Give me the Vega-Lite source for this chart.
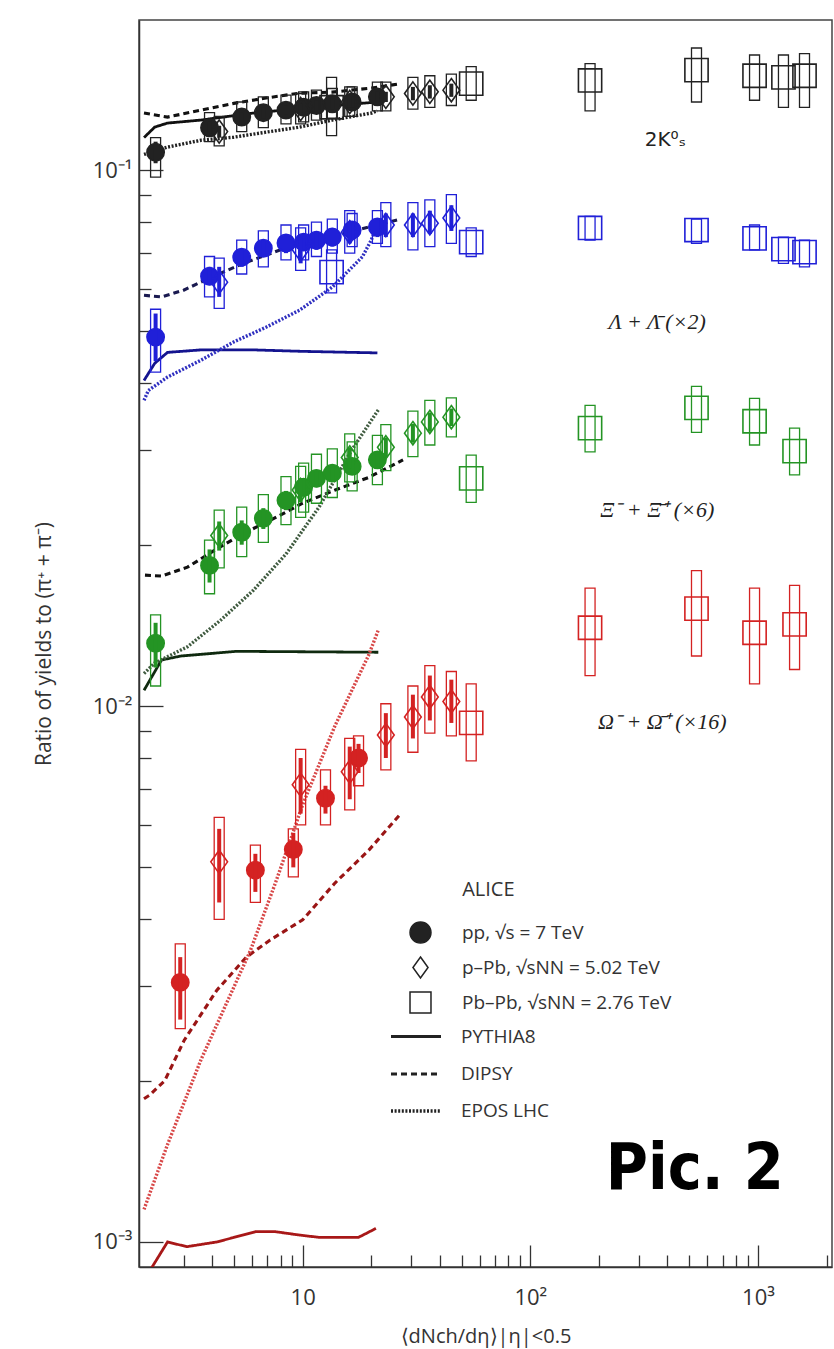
{
  "$schema": "https://vega.github.io/schema/vega-lite/v6.json",
  "width": 693,
  "height": 1247,
  "autosize": {"type": "none"},
  "padding": {"left": 139, "top": 20, "right": 2, "bottom": 82},
  "background": "white",
  "config": {
    "view": {"stroke": "#444", "strokeWidth": 1.5},
    "font": "Open Sans",
    "axis": {"grid": false}
  },
  "datasets": {
    "pts": [
      {"sp":"K","sys":"pp","x":2.26,"y":0.108,"lo":0.097,"hi":0.115,"slo":0.103,"shi":0.113},
      {"sp":"K","sys":"pp","x":3.9,"y":0.120,"lo":0.113,"hi":0.128,"slo":0.117,"shi":0.123},
      {"sp":"K","sys":"pp","x":5.4,"y":0.1256,"lo":0.118,"hi":0.134,"slo":0.123,"shi":0.128},
      {"sp":"K","sys":"pp","x":6.72,"y":0.128,"lo":0.120,"hi":0.137,"slo":0.125,"shi":0.131},
      {"sp":"K","sys":"pp","x":8.45,"y":0.1294,"lo":0.122,"hi":0.138,"slo":0.127,"shi":0.132},
      {"sp":"K","sys":"pp","x":10.1,"y":0.131,"lo":0.123,"hi":0.140,"slo":0.128,"shi":0.134},
      {"sp":"K","sys":"pp","x":11.5,"y":0.132,"lo":0.124,"hi":0.141,"slo":0.129,"shi":0.135},
      {"sp":"K","sys":"pp","x":13.5,"y":0.133,"lo":0.125,"hi":0.142,"slo":0.130,"shi":0.136},
      {"sp":"K","sys":"pp","x":16.5,"y":0.134,"lo":0.126,"hi":0.143,"slo":0.131,"shi":0.137},
      {"sp":"K","sys":"pp","x":21.3,"y":0.137,"lo":0.129,"hi":0.146,"slo":0.134,"shi":0.140},
      {"sp":"K","sys":"pPb","x":4.3,"y":0.118,"lo":0.111,"hi":0.126,"slo":0.115,"shi":0.121},
      {"sp":"K","sys":"pPb","x":9.8,"y":0.130,"lo":0.122,"hi":0.139,"slo":0.127,"shi":0.133},
      {"sp":"K","sys":"pPb","x":16.1,"y":0.134,"lo":0.126,"hi":0.143,"slo":0.131,"shi":0.137},
      {"sp":"K","sys":"pPb","x":23.2,"y":0.137,"lo":0.129,"hi":0.146,"slo":0.134,"shi":0.140},
      {"sp":"K","sys":"pPb","x":30.5,"y":0.139,"lo":0.130,"hi":0.149,"slo":0.135,"shi":0.143},
      {"sp":"K","sys":"pPb","x":36.2,"y":0.140,"lo":0.131,"hi":0.150,"slo":0.136,"shi":0.144},
      {"sp":"K","sys":"pPb","x":45,"y":0.141,"lo":0.132,"hi":0.151,"slo":0.137,"shi":0.145},
      {"sp":"K","sys":"PbPb","x":13.4,"y":0.131,"lo":0.116,"hi":0.149},
      {"sp":"K","sys":"PbPb","x":55,"y":0.145,"lo":0.135,"hi":0.156},
      {"sp":"K","sys":"PbPb","x":183,"y":0.147,"lo":0.129,"hi":0.158},
      {"sp":"K","sys":"PbPb","x":537,"y":0.1537,"lo":0.134,"hi":0.169},
      {"sp":"K","sys":"PbPb","x":966,"y":0.150,"lo":0.135,"hi":0.164},
      {"sp":"K","sys":"PbPb","x":1294,"y":0.149,"lo":0.131,"hi":0.164},
      {"sp":"K","sys":"PbPb","x":1601,"y":0.150,"lo":0.131,"hi":0.165},
      {"sp":"L","sys":"pp","x":2.26,"y":0.0488,"lo":0.042,"hi":0.055,"slo":0.044,"shi":0.054},
      {"sp":"L","sys":"pp","x":3.9,"y":0.0634,"lo":0.058,"hi":0.069,"slo":0.061,"shi":0.066},
      {"sp":"L","sys":"pp","x":5.4,"y":0.0688,"lo":0.064,"hi":0.074,"slo":0.066,"shi":0.071},
      {"sp":"L","sys":"pp","x":6.72,"y":0.0715,"lo":0.066,"hi":0.077,"slo":0.069,"shi":0.074},
      {"sp":"L","sys":"pp","x":8.45,"y":0.0731,"lo":0.068,"hi":0.079,"slo":0.070,"shi":0.076},
      {"sp":"L","sys":"pp","x":10.1,"y":0.0734,"lo":0.068,"hi":0.079,"slo":0.071,"shi":0.076},
      {"sp":"L","sys":"pp","x":11.5,"y":0.074,"lo":0.069,"hi":0.080,"slo":0.071,"shi":0.077},
      {"sp":"L","sys":"pp","x":13.5,"y":0.075,"lo":0.070,"hi":0.081,"slo":0.072,"shi":0.078},
      {"sp":"L","sys":"pp","x":16.5,"y":0.0773,"lo":0.072,"hi":0.083,"slo":0.074,"shi":0.080},
      {"sp":"L","sys":"pp","x":21.3,"y":0.0783,"lo":0.073,"hi":0.084,"slo":0.075,"shi":0.081},
      {"sp":"L","sys":"pPb","x":4.3,"y":0.0618,"lo":0.0552,"hi":0.0685,"slo":0.058,"shi":0.066},
      {"sp":"L","sys":"pPb","x":9.8,"y":0.071,"lo":0.065,"hi":0.078,"slo":0.067,"shi":0.075},
      {"sp":"L","sys":"pPb","x":16.1,"y":0.0766,"lo":0.070,"hi":0.084,"slo":0.073,"shi":0.080},
      {"sp":"L","sys":"pPb","x":23.2,"y":0.079,"lo":0.072,"hi":0.087,"slo":0.075,"shi":0.083},
      {"sp":"L","sys":"pPb","x":30.5,"y":0.079,"lo":0.071,"hi":0.087,"slo":0.075,"shi":0.083},
      {"sp":"L","sys":"pPb","x":36.2,"y":0.0796,"lo":0.072,"hi":0.088,"slo":0.076,"shi":0.084},
      {"sp":"L","sys":"pPb","x":45,"y":0.0814,"lo":0.073,"hi":0.090,"slo":0.077,"shi":0.086},
      {"sp":"L","sys":"PbPb","x":13.4,"y":0.0645,"lo":0.059,"hi":0.071},
      {"sp":"L","sys":"PbPb","x":55,"y":0.0734,"lo":0.069,"hi":0.078},
      {"sp":"L","sys":"PbPb","x":183,"y":0.078,"lo":0.074,"hi":0.082},
      {"sp":"L","sys":"PbPb","x":537,"y":0.0773,"lo":0.073,"hi":0.081},
      {"sp":"L","sys":"PbPb","x":966,"y":0.0746,"lo":0.071,"hi":0.079},
      {"sp":"L","sys":"PbPb","x":1294,"y":0.0712,"lo":0.067,"hi":0.075},
      {"sp":"L","sys":"PbPb","x":1601,"y":0.0703,"lo":0.066,"hi":0.074},
      {"sp":"X","sys":"pp","x":2.26,"y":0.0131,"lo":0.0109,"hi":0.0148,"slo":0.0118,"shi":0.0143},
      {"sp":"X","sys":"pp","x":3.9,"y":0.0183,"lo":0.0162,"hi":0.0204,"slo":0.0170,"shi":0.0196},
      {"sp":"X","sys":"pp","x":5.4,"y":0.0211,"lo":0.0190,"hi":0.0235,"slo":0.0200,"shi":0.0222},
      {"sp":"X","sys":"pp","x":6.72,"y":0.0224,"lo":0.0202,"hi":0.0248,"slo":0.0214,"shi":0.0234},
      {"sp":"X","sys":"pp","x":8.45,"y":0.0242,"lo":0.0218,"hi":0.0268,"slo":0.0232,"shi":0.0252},
      {"sp":"X","sys":"pp","x":10.1,"y":0.0256,"lo":0.0230,"hi":0.0284,"slo":0.0246,"shi":0.0266},
      {"sp":"X","sys":"pp","x":11.5,"y":0.0266,"lo":0.0239,"hi":0.0295,"slo":0.0256,"shi":0.0276},
      {"sp":"X","sys":"pp","x":13.5,"y":0.0272,"lo":0.0245,"hi":0.0302,"slo":0.0262,"shi":0.0282},
      {"sp":"X","sys":"pp","x":16.5,"y":0.0280,"lo":0.0252,"hi":0.0311,"slo":0.0270,"shi":0.0290},
      {"sp":"X","sys":"pp","x":21.3,"y":0.0288,"lo":0.0259,"hi":0.0320,"slo":0.0278,"shi":0.0298},
      {"sp":"X","sys":"pPb","x":4.3,"y":0.0208,"lo":0.0181,"hi":0.0232,"slo":0.0195,"shi":0.0221},
      {"sp":"X","sys":"pPb","x":9.8,"y":0.0253,"lo":0.0225,"hi":0.0280,"slo":0.0240,"shi":0.0266},
      {"sp":"X","sys":"pPb","x":16.1,"y":0.0291,"lo":0.0262,"hi":0.0322,"slo":0.0278,"shi":0.0304},
      {"sp":"X","sys":"pPb","x":23.2,"y":0.0304,"lo":0.0275,"hi":0.0335,"slo":0.0291,"shi":0.0317},
      {"sp":"X","sys":"pPb","x":30.5,"y":0.0323,"lo":0.0292,"hi":0.0355,"slo":0.0310,"shi":0.0336},
      {"sp":"X","sys":"pPb","x":36.2,"y":0.0339,"lo":0.0307,"hi":0.0372,"slo":0.0325,"shi":0.0353},
      {"sp":"X","sys":"pPb","x":45,"y":0.0346,"lo":0.0318,"hi":0.0376,"slo":0.0333,"shi":0.0359},
      {"sp":"X","sys":"PbPb","x":55,"y":0.0266,"lo":0.0240,"hi":0.0294},
      {"sp":"X","sys":"PbPb","x":183,"y":0.0330,"lo":0.0298,"hi":0.0364},
      {"sp":"X","sys":"PbPb","x":537,"y":0.0360,"lo":0.0324,"hi":0.0395},
      {"sp":"X","sys":"PbPb","x":966,"y":0.0340,"lo":0.0307,"hi":0.0375},
      {"sp":"X","sys":"PbPb","x":1448,"y":0.0299,"lo":0.0270,"hi":0.0330},
      {"sp":"O","sys":"pp","x":2.9,"y":0.00305,"lo":0.0025,"hi":0.0036,"slo":0.0026,"shi":0.0034},
      {"sp":"O","sys":"pp","x":6.2,"y":0.00494,"lo":0.0043,"hi":0.0055,"slo":0.0045,"shi":0.0053},
      {"sp":"O","sys":"pp","x":9.1,"y":0.0054,"lo":0.0048,"hi":0.0059,"slo":0.0050,"shi":0.0058},
      {"sp":"O","sys":"pp","x":12.6,"y":0.00673,"lo":0.0060,"hi":0.0076,"slo":0.0063,"shi":0.0071},
      {"sp":"O","sys":"pp","x":17.6,"y":0.0080,"lo":0.0071,"hi":0.0088,"slo":0.0075,"shi":0.0085},
      {"sp":"O","sys":"pPb","x":4.3,"y":0.00512,"lo":0.0040,"hi":0.0062,"slo":0.0043,"shi":0.0059},
      {"sp":"O","sys":"pPb","x":9.8,"y":0.00713,"lo":0.0060,"hi":0.0083,"slo":0.0063,"shi":0.0080},
      {"sp":"O","sys":"pPb","x":16.1,"y":0.00754,"lo":0.0064,"hi":0.0087,"slo":0.0067,"shi":0.0084},
      {"sp":"O","sys":"pPb","x":23.2,"y":0.00883,"lo":0.0076,"hi":0.0101,"slo":0.0080,"shi":0.0097},
      {"sp":"O","sys":"pPb","x":30.5,"y":0.00954,"lo":0.0082,"hi":0.0109,"slo":0.0087,"shi":0.0105},
      {"sp":"O","sys":"pPb","x":36.2,"y":0.0104,"lo":0.0089,"hi":0.0119,"slo":0.0094,"shi":0.0114},
      {"sp":"O","sys":"pPb","x":45,"y":0.0102,"lo":0.0088,"hi":0.0116,"slo":0.0093,"shi":0.0112},
      {"sp":"O","sys":"PbPb","x":55,"y":0.0093,"lo":0.0079,"hi":0.0110},
      {"sp":"O","sys":"PbPb","x":183,"y":0.0140,"lo":0.0114,"hi":0.0166},
      {"sp":"O","sys":"PbPb","x":537,"y":0.0152,"lo":0.0124,"hi":0.0179},
      {"sp":"O","sys":"PbPb","x":966,"y":0.0137,"lo":0.0110,"hi":0.0166},
      {"sp":"O","sys":"PbPb","x":1448,"y":0.0142,"lo":0.0117,"hi":0.0168}
    ],
    "crv": [
      {"c":"K PYTHIA8","model":"PYTHIA8","x":2.01,"y":0.115},
      {"c":"K PYTHIA8","model":"PYTHIA8","x":2.24,"y":0.1203},
      {"c":"K PYTHIA8","model":"PYTHIA8","x":2.55,"y":0.1224},
      {"c":"K PYTHIA8","model":"PYTHIA8","x":3.58,"y":0.124},
      {"c":"K PYTHIA8","model":"PYTHIA8","x":6.0,"y":0.1277},
      {"c":"K PYTHIA8","model":"PYTHIA8","x":10,"y":0.1305},
      {"c":"K PYTHIA8","model":"PYTHIA8","x":21.3,"y":0.134},
      {"c":"K DIPSY","model":"DIPSY","x":2.01,"y":0.1278},
      {"c":"K DIPSY","model":"DIPSY","x":2.55,"y":0.1256},
      {"c":"K DIPSY","model":"DIPSY","x":3.58,"y":0.1294},
      {"c":"K DIPSY","model":"DIPSY","x":4.98,"y":0.1332},
      {"c":"K DIPSY","model":"DIPSY","x":6.9,"y":0.1363},
      {"c":"K DIPSY","model":"DIPSY","x":9.7,"y":0.1392},
      {"c":"K DIPSY","model":"DIPSY","x":13.5,"y":0.1398},
      {"c":"K DIPSY","model":"DIPSY","x":20.1,"y":0.1423},
      {"c":"K DIPSY","model":"DIPSY","x":27,"y":0.145},
      {"c":"K EPOS LHC","model":"EPOS LHC","x":2.01,"y":0.107},
      {"c":"K EPOS LHC","model":"EPOS LHC","x":2.55,"y":0.1104},
      {"c":"K EPOS LHC","model":"EPOS LHC","x":3.58,"y":0.1137},
      {"c":"K EPOS LHC","model":"EPOS LHC","x":4.98,"y":0.1152},
      {"c":"K EPOS LHC","model":"EPOS LHC","x":6.9,"y":0.1177},
      {"c":"K EPOS LHC","model":"EPOS LHC","x":9.7,"y":0.1203},
      {"c":"K EPOS LHC","model":"EPOS LHC","x":13.5,"y":0.124},
      {"c":"K EPOS LHC","model":"EPOS LHC","x":20.1,"y":0.1278},
      {"c":"K EPOS LHC","model":"EPOS LHC","x":21.3,"y":0.129},
      {"c":"L PYTHIA8","model":"PYTHIA8","x":2.01,"y":0.0405},
      {"c":"L PYTHIA8","model":"PYTHIA8","x":2.24,"y":0.0436},
      {"c":"L PYTHIA8","model":"PYTHIA8","x":2.55,"y":0.0457},
      {"c":"L PYTHIA8","model":"PYTHIA8","x":3.6,"y":0.0462},
      {"c":"L PYTHIA8","model":"PYTHIA8","x":6,"y":0.0462},
      {"c":"L PYTHIA8","model":"PYTHIA8","x":10,"y":0.0459},
      {"c":"L PYTHIA8","model":"PYTHIA8","x":21.3,"y":0.0456},
      {"c":"L DIPSY","model":"DIPSY","x":2.01,"y":0.0584},
      {"c":"L DIPSY","model":"DIPSY","x":2.4,"y":0.058},
      {"c":"L DIPSY","model":"DIPSY","x":3.0,"y":0.0597},
      {"c":"L DIPSY","model":"DIPSY","x":3.9,"y":0.0629},
      {"c":"L DIPSY","model":"DIPSY","x":5.5,"y":0.067},
      {"c":"L DIPSY","model":"DIPSY","x":8,"y":0.071},
      {"c":"L DIPSY","model":"DIPSY","x":13,"y":0.075},
      {"c":"L DIPSY","model":"DIPSY","x":20,"y":0.0785},
      {"c":"L DIPSY","model":"DIPSY","x":27,"y":0.081},
      {"c":"L EPOS LHC","model":"EPOS LHC","x":2.01,"y":0.0372},
      {"c":"L EPOS LHC","model":"EPOS LHC","x":2.1,"y":0.0388},
      {"c":"L EPOS LHC","model":"EPOS LHC","x":2.55,"y":0.0411},
      {"c":"L EPOS LHC","model":"EPOS LHC","x":3.58,"y":0.0442},
      {"c":"L EPOS LHC","model":"EPOS LHC","x":4.98,"y":0.0478},
      {"c":"L EPOS LHC","model":"EPOS LHC","x":6.9,"y":0.0509},
      {"c":"L EPOS LHC","model":"EPOS LHC","x":9.7,"y":0.0548},
      {"c":"L EPOS LHC","model":"EPOS LHC","x":13.5,"y":0.0605},
      {"c":"L EPOS LHC","model":"EPOS LHC","x":18.3,"y":0.0689},
      {"c":"L EPOS LHC","model":"EPOS LHC","x":20,"y":0.074},
      {"c":"L EPOS LHC","model":"EPOS LHC","x":21.3,"y":0.079},
      {"c":"X PYTHIA8","model":"PYTHIA8","x":2.01,"y":0.0107},
      {"c":"X PYTHIA8","model":"PYTHIA8","x":2.4,"y":0.01219},
      {"c":"X PYTHIA8","model":"PYTHIA8","x":2.93,"y":0.0124},
      {"c":"X PYTHIA8","model":"PYTHIA8","x":5.13,"y":0.01265},
      {"c":"X PYTHIA8","model":"PYTHIA8","x":21.5,"y":0.0126},
      {"c":"X DIPSY","model":"DIPSY","x":2.03,"y":0.01755},
      {"c":"X DIPSY","model":"DIPSY","x":2.4,"y":0.01748},
      {"c":"X DIPSY","model":"DIPSY","x":3.12,"y":0.01816},
      {"c":"X DIPSY","model":"DIPSY","x":4.08,"y":0.0195},
      {"c":"X DIPSY","model":"DIPSY","x":5.5,"y":0.021},
      {"c":"X DIPSY","model":"DIPSY","x":7.2,"y":0.0222},
      {"c":"X DIPSY","model":"DIPSY","x":10,"y":0.0239},
      {"c":"X DIPSY","model":"DIPSY","x":13.9,"y":0.0253},
      {"c":"X DIPSY","model":"DIPSY","x":19.5,"y":0.0267},
      {"c":"X DIPSY","model":"DIPSY","x":27.6,"y":0.0288},
      {"c":"X EPOS LHC","model":"EPOS LHC","x":2.01,"y":0.0115},
      {"c":"X EPOS LHC","model":"EPOS LHC","x":2.24,"y":0.01203},
      {"c":"X EPOS LHC","model":"EPOS LHC","x":3.12,"y":0.0129},
      {"c":"X EPOS LHC","model":"EPOS LHC","x":4.37,"y":0.01447},
      {"c":"X EPOS LHC","model":"EPOS LHC","x":6.08,"y":0.01645},
      {"c":"X EPOS LHC","model":"EPOS LHC","x":8.44,"y":0.0192},
      {"c":"X EPOS LHC","model":"EPOS LHC","x":11.8,"y":0.0235},
      {"c":"X EPOS LHC","model":"EPOS LHC","x":16.4,"y":0.03},
      {"c":"X EPOS LHC","model":"EPOS LHC","x":21.5,"y":0.0357},
      {"c":"O PYTHIA8","model":"PYTHIA8","x":2.05,"y":0.00086},
      {"c":"O PYTHIA8","model":"PYTHIA8","x":2.55,"y":0.001},
      {"c":"O PYTHIA8","model":"PYTHIA8","x":3.1,"y":0.00098},
      {"c":"O PYTHIA8","model":"PYTHIA8","x":4.2,"y":0.001},
      {"c":"O PYTHIA8","model":"PYTHIA8","x":6.2,"y":0.001045},
      {"c":"O PYTHIA8","model":"PYTHIA8","x":7.6,"y":0.001045},
      {"c":"O PYTHIA8","model":"PYTHIA8","x":9.7,"y":0.00103},
      {"c":"O PYTHIA8","model":"PYTHIA8","x":11.8,"y":0.00102},
      {"c":"O PYTHIA8","model":"PYTHIA8","x":17.6,"y":0.00102},
      {"c":"O PYTHIA8","model":"PYTHIA8","x":21,"y":0.00106},
      {"c":"O DIPSY","model":"DIPSY","x":2.01,"y":0.00185},
      {"c":"O DIPSY","model":"DIPSY","x":2.13,"y":0.00188},
      {"c":"O DIPSY","model":"DIPSY","x":2.48,"y":0.002},
      {"c":"O DIPSY","model":"DIPSY","x":3.02,"y":0.00238},
      {"c":"O DIPSY","model":"DIPSY","x":4.2,"y":0.00295},
      {"c":"O DIPSY","model":"DIPSY","x":5.66,"y":0.0034},
      {"c":"O DIPSY","model":"DIPSY","x":7.2,"y":0.00366},
      {"c":"O DIPSY","model":"DIPSY","x":10,"y":0.00399},
      {"c":"O DIPSY","model":"DIPSY","x":13.9,"y":0.00468},
      {"c":"O DIPSY","model":"DIPSY","x":19.5,"y":0.00538},
      {"c":"O DIPSY","model":"DIPSY","x":27.1,"y":0.00631},
      {"c":"O EPOS LHC","model":"EPOS LHC","x":2.01,"y":0.00115},
      {"c":"O EPOS LHC","model":"EPOS LHC","x":2.55,"y":0.00152},
      {"c":"O EPOS LHC","model":"EPOS LHC","x":3.58,"y":0.00219},
      {"c":"O EPOS LHC","model":"EPOS LHC","x":5.9,"y":0.0035},
      {"c":"O EPOS LHC","model":"EPOS LHC","x":7.6,"y":0.00468},
      {"c":"O EPOS LHC","model":"EPOS LHC","x":10,"y":0.00654},
      {"c":"O EPOS LHC","model":"EPOS LHC","x":13.9,"y":0.00921},
      {"c":"O EPOS LHC","model":"EPOS LHC","x":19.5,"y":0.01245},
      {"c":"O EPOS LHC","model":"EPOS LHC","x":21.5,"y":0.01386}
    ],
    "lab": [
      {"t":"Λ + Λ̄ (×2)","x":361,"y":0.0521},
      {"t":"Ξ⁻ + Ξ̄⁺ (×6)","x":361,"y":0.0232},
      {"t":"Ω⁻ + Ω̄⁺ (×16)","x":380,"y":0.00933}
    ],
    "lab2": [
      {"t":"2K⁰ₛ","x":392,"y":0.1137}
    ],
    "hdr": [
      {"t":"ALICE","x":50.2,"y":0.00454}
    ],
    "note": [
      {"t":"Pic. 2","x":528,"y":0.00136}
    ]
  },
  "encoding": {
    "x": {"field": "x", "type": "quantitative",
      "scale": {"type": "log", "domain": [2.01, 2010], "nice": false},
      "axis": {
        "title": "⟨dNch/dη⟩|η|<0.5",
        "values": [3,4,5,6,7,8,9,10,20,30,40,50,60,70,80,90,100,200,300,400,500,600,700,800,900,1000,2000],
        "labelExpr": "datum.value == 10 ? '10' : datum.value == 100 ? '10²' : datum.value == 1000 ? '10³' : ''",
        "tickSize": {"condition": {"test": "datum.value == 10 || datum.value == 100 || datum.value == 1000", "value": -22}, "value": -12},
        "tickColor": "#333", "tickWidth": 1.3,
        "domainColor": "#333", "domainWidth": 1.5,
        "labelFont": "Open Sans", "labelFontSize": 22, "labelColor": "#333",
        "labelPadding": 42, "labelFlush": false, "labelOverlap": false,
        "titleFont": "Open Sans", "titleFontSize": 20, "titleFontWeight": "normal", "titleColor": "#333",
        "titlePadding": 8
      }
    },
    "y": {"field": "y", "type": "quantitative",
      "scale": {"type": "log", "domain": [0.000898, 0.1906], "nice": false},
      "axis": {
        "title": "Ratio of yields to (π⁺ + π⁻)",
        "values": [0.001,0.002,0.003,0.004,0.005,0.006,0.007,0.008,0.009,0.01,0.02,0.03,0.04,0.05,0.06,0.07,0.08,0.09,0.1],
        "labelExpr": "datum.value == 0.1 ? '10⁻¹' : datum.value == 0.01 ? '10⁻²' : datum.value == 0.001 ? '10⁻³' : ''",
        "tickSize": {"condition": {"test": "datum.value == 0.1 || datum.value == 0.01 || datum.value == 0.001", "value": -24}, "value": -12},
        "tickColor": "#333", "tickWidth": 1.3,
        "domainColor": "#333", "domainWidth": 1.5,
        "labelFont": "Open Sans", "labelFontSize": 22, "labelColor": "#333",
        "labelPadding": 31, "labelFlush": false, "labelOverlap": false,
        "titleFont": "Open Sans", "titleFontSize": 21, "titleFontWeight": "normal", "titleColor": "#333",
        "titlePadding": 38
      }
    }
  },
  "layer": [
    {
      "data": {"name": "crv"},
      "mark": {"type": "line", "clip": true, "strokeCap": "butt"},
      "encoding": {
        "stroke": {"field": "c", "type": "nominal", "legend": null,
          "scale": {
            "domain": ["K PYTHIA8","K DIPSY","K EPOS LHC","L PYTHIA8","L DIPSY","L EPOS LHC","X PYTHIA8","X DIPSY","X EPOS LHC","O PYTHIA8","O DIPSY","O EPOS LHC"],
            "range": ["#111111","#111111","#222222","#14148f","#1a1a50","#3030c0","#0f2a0f","#111111","#3f5a3f","#a81818","#9a1515","#d84848"]
          }
        },
        "strokeDash": {"field": "model", "type": "nominal",
          "scale": {"domain": ["PYTHIA8","DIPSY","EPOS LHC"], "range": [[1,0],[6,4],[2,1.6]]},
          "legend": {
            "title": null, "orient": "none", "legendX": 250, "legendY": 990,
            "symbolType": "stroke", "symbolSize": 2500, "symbolStrokeWidth": 3, "symbolStrokeColor": "#222",
            "labelFont": "Open Sans", "labelFontSize": 19, "labelColor": "#333", "labelOffset": 18, "labelLimit": 400,
            "rowPadding": 0, "padding": 0
          }
        },
        "strokeWidth": {"field": "model", "type": "nominal", "legend": null,
          "scale": {"domain": ["PYTHIA8","DIPSY","EPOS LHC"], "range": [2.8, 3.4, 2.6]}}
      }
    },
    {
      "data": {"name": "pts"},
      "mark": {"type": "bar", "filled": false, "width": 10, "strokeWidth": 1.3, "clip": true},
      "encoding": {
        "y": {"field": "lo", "type": "quantitative", "scale": {"type": "log", "domain": [0.000898, 0.1906], "nice": false}},
        "y2": {"field": "hi"},
        "color": {"field": "sp", "type": "nominal", "legend": null,
          "scale": {"domain": ["K","L","X","O"], "range": ["#222222","#2020d8","#249424","#d42222"]}}
      }
    },
    {
      "data": {"name": "pts"},
      "transform": [{"filter": "datum.sys === 'pp'"}],
      "mark": {"type": "point", "filled": true, "shape": "circle", "size": 300, "opacity": 1},
      "encoding": {
        "color": {"field": "sp", "type": "nominal", "legend": null,
          "scale": {"domain": ["K","L","X","O"], "range": ["#222222","#2020d8","#249424","#d42222"]}}
      }
    },
    {
      "data": {"name": "pts"},
      "mark": {"type": "point", "filled": false, "strokeWidth": 1.6, "opacity": 1},
      "encoding": {
        "shape": {"field": "sys", "type": "nominal",
          "scale": {"domain": ["pp","pPb","PbPb"], "range": ["circle","M0,-1L0.72,0L0,1L-0.72,0Z","square"]}},
        "size": {"condition": {"test": "datum.sys === 'pp'", "value": 300}, "value": 540},
        "color": {"field": "sp", "type": "nominal", "legend": null,
          "scale": {"domain": ["K","L","X","O"], "range": ["#222222","#2020d8","#249424","#d42222"]}}
      }
    },
    {
      "data": {"name": "pts"},
      "transform": [{"filter": "isValid(datum.slo)"}],
      "mark": {"type": "rule", "strokeWidth": 4},
      "encoding": {
        "y": {"field": "slo", "type": "quantitative", "scale": {"type": "log", "domain": [0.000898, 0.1906], "nice": false}},
        "y2": {"field": "shi"},
        "color": {"field": "sp", "type": "nominal", "legend": null,
          "scale": {"domain": ["K","L","X","O"], "range": ["#222222","#2020d8","#249424","#d42222"]}}
      }
    },
    {
      "data": {"name": "pts"},
      "transform": [{"filter": "datum.x < 0"}],
      "mark": {"type": "point", "filled": true, "stroke": "#222", "strokeWidth": 1.5, "size": 440},
      "encoding": {
        "shape": {"field": "sys", "type": "nominal",
          "scale": {"domain": ["pp","pPb","PbPb"], "range": ["circle","M0,-1L0.72,0L0,1L-0.72,0Z","square"]},
          "legend": {
            "title": null, "orient": "none", "legendX": 270, "legendY": 901,
            "labelFont": "Open Sans", "labelFontSize": 19, "labelColor": "#333", "labelOffset": 30, "labelLimit": 400,
            "rowPadding": 8, "symbolSize": 440, "padding": 0, "symbolStrokeColor": "#222", "symbolStrokeWidth": 1.5,
            "labelExpr": "datum.value === 'pp' ? 'pp, √s = 7 TeV' : datum.value === 'pPb' ? 'p–Pb, √sNN = 5.02 TeV' : 'Pb–Pb, √sNN = 2.76 TeV'"
          }
        },
        "fill": {"field": "sys", "type": "nominal",
          "scale": {"domain": ["pp","pPb","PbPb"], "range": ["#222222","transparent","transparent"]},
          "legend": {
            "title": null, "orient": "none", "legendX": 270, "legendY": 901,
            "labelFont": "Open Sans", "labelFontSize": 19, "labelColor": "#333", "labelOffset": 30, "labelLimit": 400,
            "rowPadding": 8, "symbolSize": 440, "padding": 0, "symbolStrokeColor": "#222", "symbolStrokeWidth": 1.5,
            "labelExpr": "datum.value === 'pp' ? 'pp, √s = 7 TeV' : datum.value === 'pPb' ? 'p–Pb, √sNN = 5.02 TeV' : 'Pb–Pb, √sNN = 2.76 TeV'"
          }
        }
      }
    },
    {
      "data": {"name": "lab"},
      "mark": {"type": "text", "font": "Liberation Serif", "fontSize": 22, "fontStyle": "italic", "color": "#222", "align": "center", "baseline": "middle"},
      "encoding": {"text": {"field": "t"}}
    },
    {
      "data": {"name": "lab2"},
      "mark": {"type": "text", "font": "DejaVu Sans", "fontSize": 20, "color": "#222", "align": "center", "baseline": "middle"},
      "encoding": {"text": {"field": "t"}}
    },
    {
      "data": {"name": "hdr"},
      "mark": {"type": "text", "font": "Open Sans", "fontSize": 20, "color": "#333", "align": "left", "baseline": "middle"},
      "encoding": {"text": {"field": "t"}}
    },
    {
      "data": {"name": "note"},
      "mark": {"type": "text", "font": "Liberation Sans Narrow, DejaVu Sans Condensed, Open Sans", "fontSize": 64, "fontWeight": "bold", "color": "#000", "align": "center", "baseline": "middle"},
      "encoding": {"text": {"field": "t"}}
    }
  ]
}
